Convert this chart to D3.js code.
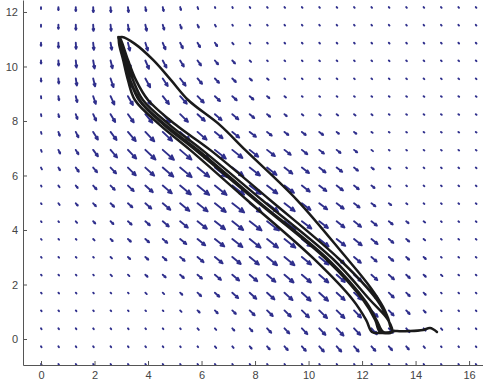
<!DOCTYPE html>
<html>
<head>
<meta charset="utf-8">
<script src="https://cdn.jsdelivr.net/npm/d3@7"></script>
<style>
  html, body { margin: 0; padding: 0; background: #fff; }
  svg { display: block; }
</style>
</head>
<body>
<svg width="483" height="383"></svg>
<script>
// tick labels
const xTicks = [0, 2, 4, 6, 8, 10, 12, 14, 16];
const yTicks = [0, 2, 4, 6, 8, 10, 12];

// quiver grid (columns left to right, rows top to bottom)
const gridX = [0, 0.65, 1.3, 1.95, 2.6, 3.25, 3.9, 4.55, 5.2, 5.85, 6.5, 7.15, 7.8, 8.45, 9.1, 9.75, 10.4, 11.05, 11.7, 12.35, 13, 13.65, 14.3, 14.95, 15.6, 16.25];
const gridY = [12.18, 11.53, 10.87, 10.22, 9.56, 8.91, 8.25, 7.6, 6.94, 6.29, 5.63, 4.98, 4.32, 3.67, 3.01, 2.36, 1.7, 1.05, 0.39, -0.27, -0.92];

// arrow length (one row per gridY)
const speed = [
  [2,3,4,5,5,5,4,4,3,2,1,1,1,1,1,1,1,1,1,1,1,1,1,1,1,1],
  [2,4,5,6,6,6,6,5,4,3,2,1,1,1,1,1,1,1,1,1,1,1,1,1,1,1],
  [3,5,6,7,7,8,8,7,6,5,4,2,1,1,1,1,1,1,1,1,1,1,1,1,1,1],
  [3,5,7,8,8,8,9,8,7,6,5,4,2,1,1,1,1,1,1,1,1,1,1,1,1,1],
  [3,5,7,8,9,9,10,9,9,7,6,5,3,2,1,1,1,1,1,1,1,1,1,1,1,1],
  [2,4,6,8,9,10,10,10,10,9,7,6,5,3,2,1,1,1,1,1,1,1,1,1,1,1],
  [2,3,5,7,9,10,11,11,11,10,9,8,6,4,3,2,2,2,2,1.5,1,1,1,1,1,1],
  [2,4,6,9,10,12,13,13,13,12,10,9,8,6,5,5,5,3,3,1.5,1,1,1,1,1,1],
  [2,4,5,8,10,12,14,15,15,15,14,13,11,10,8,7,6,5,4,2,1,1,1,1,1,1],
  [2,3,5,6,8,11,12,14,15,15,15,14,13,12,10,9,8,7,5,3,2,1,1,1,1,1],
  [1,2,3,5,6,8,10,12,14,15,15,15,14,13,12,10,9,8,6,4,2,1,1,1,1,1],
  [1,2,3,4,5,6,8,10,12,13,14,15,15,14,13,11,10,9,7,5,3,1.5,1,1,1,1],
  [1,1,2,3,4,5,6,8,10,12,13,14,15,15,14,12,11,10,9,7,5,3,2,1,1,1],
  [1,1,1,2,3,4,5,6,8,10,12,13,14,14,14,12,12,11,10,8,6,4,2,1,1,1],
  [1,1,1,1,2,3,4,5,6,8,10,11,12,13,13,12,12,10,9,7,6,4,3,1,1,1],
  [1,1,1,1,2,2,3,4,5,6,8,9,10,11,12,12,12,11,10,8,7,5,3,2,1,1],
  [1,1,1,1,1,1,2,2,3,5,6,8,9,10,11,12,12,11,10,9,7,5,3,1,1,1],
  [1,1,1,1,1,1,1,1,2,3,4,5,7,8,9,10,11,11,10,9,7,5,3,1,1,1],
  [1,1,1,1,1,1,1,1,1,2,2,3,4,6,7,8,9,10,9,8,6,5,3,2,1,1],
  [1,1,1,1,1,1,1,1,1,1,2,2,3,4,5,6,7,7,7,6,5,4,2,1,1,1],
  [1,1,1,1,1,1,1,1,1,1,1,1,1,1,1,1,1,1,1,1,1,1,1,1,1,1]
];

// arrow direction, degrees below horizontal
const angle = [
  [90,90,90,88,86,83,80,77,74,70,65,60,55,50,50,50,50,50,50,50,50,50,50,50,50,50],
  [90,90,89,87,84,81,77,73,69,65,60,55,50,50,50,50,50,50,50,50,50,50,50,50,50,50],
  [90,89,87,84,80,76,72,67,63,59,55,50,47,45,45,45,45,45,45,45,45,45,45,45,45,45],
  [89,87,84,80,76,71,66,62,58,54,50,47,45,43,43,43,43,43,43,43,43,43,43,43,43,43],
  [87,85,81,76,71,66,61,56,52,49,46,44,42,41,41,41,41,41,41,41,41,41,41,41,41,41],
  [85,81,76,71,65,60,55,51,48,45,43,42,41,40,40,40,40,40,40,40,40,40,40,40,40,40],
  [81,76,71,65,59,54,50,47,44,42,41,40,40,40,40,40,40,40,40,40,40,40,40,40,40,40],
  [76,70,64,58,53,49,46,43,41,40,39,39,38,38,38,38,38,38,38,38,38,38,38,38,38,38],
  [70,64,58,53,49,46,43,41,40,39,38,38,38,38,38,38,38,38,38,38,38,38,38,38,38,38],
  [62,57,53,49,46,44,42,40,39,38,38,37,37,37,37,37,37,37,37,37,37,37,37,37,37,37],
  [58,54,50,47,45,43,41,40,39,38,38,37,37,37,37,37,37,37,37,37,37,37,37,37,37,37],
  [55,52,49,46,44,42,41,40,39,38,38,37,37,37,37,37,37,37,37,37,37,37,37,37,37,37],
  [52,50,48,46,44,42,41,40,39,38,38,38,37,37,37,37,37,38,38,38,38,38,38,38,38,38],
  [50,48,47,45,44,42,41,40,39,39,38,38,38,38,38,38,38,38,39,39,40,40,40,40,40,40],
  [50,48,46,45,44,43,42,41,40,40,39,39,39,39,39,39,39,40,40,41,41,42,42,42,42,42],
  [50,48,47,46,45,44,43,42,41,41,40,40,40,40,40,40,40,41,41,42,42,43,43,43,43,43],
  [50,49,48,47,46,45,44,44,43,43,42,42,42,42,42,42,42,42,43,43,44,44,45,45,45,45],
  [52,51,50,49,48,47,46,46,45,45,45,44,44,44,44,44,44,44,45,45,46,46,47,47,47,47],
  [54,53,52,51,50,50,49,49,48,48,48,47,47,46,46,46,46,46,46,47,47,48,48,48,48,48],
  [55,55,54,53,52,52,51,51,50,50,50,49,49,48,48,48,48,48,48,48,49,49,50,50,50,50],
  [55,55,55,55,55,55,55,55,55,55,55,55,55,55,55,55,55,55,55,55,55,55,55,55,55,55]
];

// hand-drawn trajectory
const trajX = [14.80,14.54,14.28,13.79,13.31,13.12,
  12.97,12.79,12.30,11.33,9.57,7.63,6.69,5.50,4.86,4.19,3.51,3.03,2.92,
  2.92,3.07,3.25,3.51,4.45,5.57,7.70,10.24,11.66,12.15,12.37,12.67,13.12,
  13.01,12.56,11.18,8.56,6.32,5.05,4.00,3.55,3.25,2.99,2.92,
  2.95,3.10,3.33,3.66,4.60,5.76,8.00,10.69,12.04,12.49,12.67,13.12,
  12.97,12.30,10.95,8.26,6.02,4.82,3.81,3.44,3.18,2.95,2.88,
  2.99,3.14,3.36,3.74,4.75,5.91,8.11,10.80,12.15,12.56,12.79,13.23];
const trajY = [0.26,0.40,0.33,0.29,0.29,0.33,
  0.77,1.17,1.91,3.08,5.10,6.94,7.85,8.77,9.50,10.24,10.83,11.08,11.05,
  10.83,10.24,9.50,8.77,7.85,6.94,5.10,2.90,1.43,0.70,0.26,0.22,0.26,
  0.62,1.43,2.90,5.10,6.94,7.85,8.77,9.50,10.24,10.97,11.08,
  10.79,10.24,9.50,8.77,7.85,6.94,5.10,2.90,1.43,0.70,0.26,0.26,
  0.70,1.43,2.90,5.10,6.94,7.85,8.77,9.50,10.24,10.97,11.08,
  10.75,10.17,9.43,8.70,7.78,6.90,5.06,2.86,1.36,0.66,0.26,0.29];

const svg = d3.select('svg');
const width = 483, height = 383;
svg.append('rect').attr('width', width).attr('height', height).attr('fill', '#fff');

const xScale = d3.scaleLinear().domain([-0.673, 16.52]).range([23, 483]);
const yScale = d3.scaleLinear().domain([-0.954, 12.44]).range([365, 0]);

// quiver arrows
const arrowScale = 1 / 27; // data units per speed unit
const cells = [];
gridY.forEach((gy, j) => {
  gridX.forEach((gx, i) => {
    const a = angle[j][i] * Math.PI / 180;
    const s = speed[j][i] * arrowScale;
    cells.push({ x: gx, y: gy, u: s * Math.cos(a), v: -s * Math.sin(a) });
  });
});

function arrowPath(d) {
  const x0 = xScale(d.x), y0 = yScale(d.y);
  const x1 = xScale(d.x + d.u), y1 = yScale(d.y + d.v);
  const dx = x1 - x0, dy = y1 - y0;
  const len = Math.hypot(dx, dy);
  if (len < 2.5) return `M${x0},${y0}L${x1},${y1}`;
  const h = len * 0.33, spread = 24 * Math.PI / 180;
  const bx = -dx / len, by = -dy / len;
  const rot = t => [x1 + h * (bx * Math.cos(t) - by * Math.sin(t)), y1 + h * (bx * Math.sin(t) + by * Math.cos(t))];
  const p1 = rot(spread), p2 = rot(-spread);
  return `M${x0},${y0}L${x1},${y1}M${p1[0]},${p1[1]}L${x1},${y1}L${p2[0]},${p2[1]}`;
}

svg.append('g')
  .attr('class', 'quiver')
  .selectAll('path')
  .data(cells)
  .join('path')
  .attr('d', arrowPath)
  .attr('fill', 'none')
  .attr('stroke', '#2f2f8c')
  .attr('stroke-width', 1.9)
  .attr('stroke-linecap', 'round')
  .attr('stroke-linejoin', 'round');

// trajectory
const traj = trajX.map((x, i) => [x, trajY[i]]);
const line = d3.line()
  .x(d => xScale(d[0]))
  .y(d => yScale(d[1]))
  .curve(d3.curveCatmullRom.alpha(0.5));

svg.append('path')
  .datum(traj)
  .attr('d', line)
  .attr('fill', 'none')
  .attr('stroke', '#1a1a1a')
  .attr('stroke-width', 2.5)
  .attr('stroke-linejoin', 'round')
  .attr('stroke-linecap', 'round');

// axes
const xAxis = svg.append('g')
  .attr('transform', `translate(0,${yScale.range()[0]})`)
  .call(d3.axisBottom(xScale).tickValues(xTicks).tickSize(-4).tickSizeOuter(0).tickPadding(6));
const yAxis = svg.append('g')
  .attr('transform', `translate(${xScale.range()[0]},0)`)
  .call(d3.axisLeft(yScale).tickValues(yTicks).tickSize(-4).tickSizeOuter(0).tickPadding(5));

[xAxis, yAxis].forEach(g => {
  g.attr('font-family', '"Liberation Sans", Arial, sans-serif').attr('font-size', 11);
  g.select('.domain').attr('stroke', '#555');
  g.selectAll('.tick line').attr('stroke', '#555');
  g.selectAll('.tick text').attr('fill', '#444');
});
</script>
</body>
</html>
